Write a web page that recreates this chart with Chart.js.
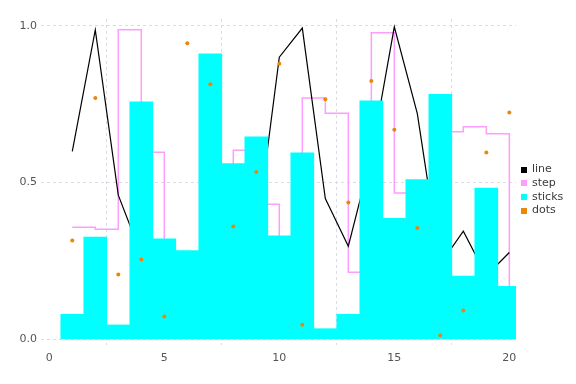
<!DOCTYPE html>
<html>
<head>
<meta charset="utf-8">
<script src="https://cdn.jsdelivr.net/npm/chart.js@4/dist/chart.umd.min.js"></script>
<style>
html,body{margin:0;padding:0;background:#fff;}
#wrap{width:576px;height:384px;position:relative;}
</style>
</head>
<body>
<div id="wrap"><canvas id="c" width="576" height="384"></canvas></div>
<script>
const xs = [1,2,3,4,5,6,7,8,9,10,11,12,13,14,15,16,17,18,19,20];
const lineVals = [0.60,0.987,0.46,0.27,0.15,0.20,0.10,0.20,0.33,0.90,0.993,0.449,0.297,0.585,0.997,0.72,0.24,0.345,0.203,0.277];
const stepVals = [0.358,0.351,0.988,0.597,0.15,0.25,0.45,0.603,0.431,0.20,0.77,0.721,0.214,0.978,0.467,0.40,0.662,0.678,0.656,0.10];
const stickVals = [0.08,0.326,0.046,0.758,0.321,0.283,0.911,0.561,0.646,0.33,0.595,0.034,0.08,0.761,0.386,0.51,0.782,0.202,0.483,0.169];
const dotVals = [0.315,0.77,0.207,0.255,0.073,0.945,0.814,0.36,0.534,0.879,0.047,0.766,0.437,0.824,0.669,0.355,0.013,0.092,0.596,0.724];
const xTicks = [0,5,10,15,20];
const yTicks = [0,0.5,1.0];
const seriesNames = ['line','step','sticks','dots'];
const seriesColors = ['#000000','#ff9cff','#00ffff','#e8870b'];

const pts = vals => xs.map((x,i)=>({x:x,y:vals[i]}));

const legendPlugin = {
  id:'customLegend',
  afterDraw(chart){
    const ctx = chart.ctx;
    ctx.save();
    ctx.font = '11px "DejaVu Sans", sans-serif';
    ctx.textBaseline = 'middle';
    ctx.textAlign = 'left';
    const x0 = 521, y0 = 169.5, dy = 13.7;
    seriesNames.forEach((n,i)=>{
      const y = y0 + i*dy;
      ctx.fillStyle = seriesColors[i];
      ctx.fillRect(x0, Math.round(y-3), 6, 6);
      ctx.fillStyle = '#3a3a3a';
      ctx.fillText(n, x0+11, y);
    });
    ctx.restore();
  }
};

const gridCommon = {color:'#dcdce6', lineWidth:1, drawTicks:false};
const tickFont = {family:'"DejaVu Sans", sans-serif', size:11};

new Chart(document.getElementById('c'), {
  data:{
    datasets:[
      {type:'bar', label:seriesNames[2], data:pts(stickVals), backgroundColor:seriesColors[2], borderWidth:0, barPercentage:1.0, categoryPercentage:1.0, order:1},
      {type:'line', label:seriesNames[0], data:pts(lineVals), borderColor:seriesColors[0], borderWidth:1.2, pointRadius:0, fill:false, tension:0, order:2},
      {type:'line', label:seriesNames[1], data:pts(stepVals), borderColor:seriesColors[1], borderWidth:1.5, pointRadius:0, fill:false, stepped:'before', order:3},
      {type:'scatter', label:seriesNames[3], data:pts(dotVals), backgroundColor:seriesColors[3], borderWidth:0, pointRadius:2, pointStyle:'circle', order:0}
    ]
  },
  options:{
    responsive:false,
    animation:false,
    devicePixelRatio:1,
    layout:{padding:{left:0,right:60,top:19,bottom:0}},
    plugins:{legend:{display:false}, tooltip:{enabled:false}},
    scales:{
      x:{type:'linear', min:-0.36, max:20.29, offset:false,
        grid:Object.assign({}, gridCommon),
        border:{display:false, dash:[3,3]},
        ticks:{font:tickFont, color:'#555555', padding:7, maxRotation:0, callback:v=>String(v)},
        afterBuildTicks:s=>{s.ticks = xTicks.map(v=>({value:v}));},
        afterFit:s=>{s.height = 39;}
      },
      y:{type:'linear', min:-0.018, max:1.022,
        grid:Object.assign({}, gridCommon),
        border:{display:false, dash:[3,3]},
        ticks:{font:tickFont, color:'#555555', padding:4, callback:v=>Number(v).toFixed(1)},
        afterBuildTicks:s=>{s.ticks = yTicks.map(v=>({value:v}));},
        afterFit:s=>{s.width = 41;}
      }
    }
  },
  plugins:[legendPlugin]
});
</script>
</body>
</html>
